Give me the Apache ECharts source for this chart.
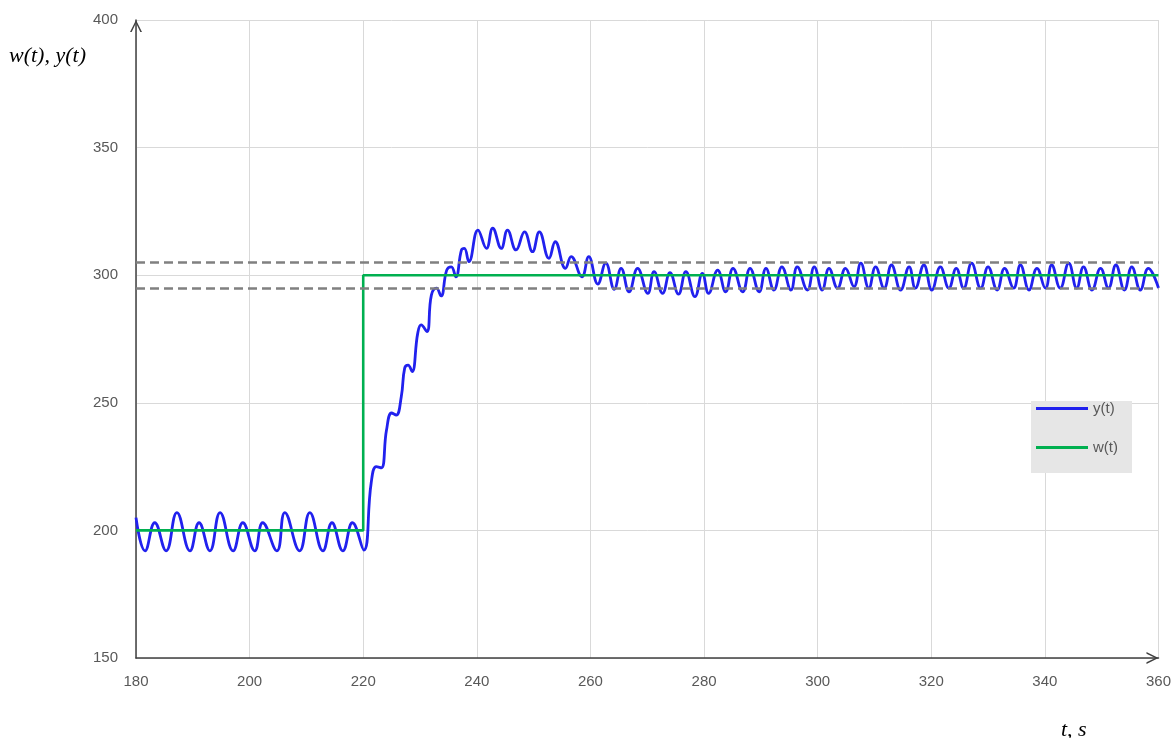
<!DOCTYPE html>
<html>
<head>
<meta charset="utf-8">
<script src="https://cdn.jsdelivr.net/npm/echarts@6/dist/echarts.min.js"></script>
<style>
html,body{margin:0;padding:0;background:#fff;overflow:hidden;}
#chart{width:1174px;height:738px;}
</style>
</head>
<body>
<div id="chart"></div>
<script>
// y(t): time stamps (s) and values
const yTime = [
  180.0, 181.6, 183.3, 185.3, 187.2, 189.5, 191.1, 193.0, 194.8, 197.1,
  198.8, 200.9, 202.3, 204.8, 206.2, 208.8, 210.6, 212.9, 214.5, 216.4,
  218.1, 220.1, 221.4, 222.3, 223.2, 224.1, 225.0, 225.8, 226.7, 227.3,
  227.9, 228.6, 229.6, 230.2, 231.2, 232.0, 232.9, 233.7, 234.7, 235.5,
  236.3, 237.3, 237.8, 238.6, 240.2, 241.7, 242.8, 244.3, 245.4, 246.9,
  248.4, 249.8, 251.0, 252.7, 253.8, 255.6, 256.6, 258.5, 259.7, 261.3,
  262.7, 264.2, 265.4, 266.8, 268.3, 270.1, 271.2, 272.7, 274.0, 275.5,
  276.8, 278.4, 279.7, 280.8, 282.4, 283.8, 285.1, 286.8, 288.1, 289.7,
  290.9, 292.3, 293.7, 295.3, 296.4, 298.2, 299.4, 300.8, 302.0, 303.5,
  304.9, 306.4, 307.6, 309.0, 310.2, 311.7, 313.0, 314.6, 316.1, 317.2,
  318.7, 320.1, 321.6, 323.1, 324.4, 325.7, 327.1, 328.7, 330.0, 331.6,
  332.9, 334.5, 335.7, 337.2, 338.6, 340.1, 341.2, 342.7, 344.2, 345.6,
  346.8, 348.3, 349.8, 351.2, 352.5, 354.0, 355.3, 356.8, 358.2, 360.0
];
const yValue = [
  205.0, 192.0, 203.0, 192.0, 207.0, 192.0, 203.0, 192.0, 207.0, 192.0,
  203.0, 192.0, 203.0, 192.0, 207.0, 192.0, 207.0, 192.0, 203.0, 192.0,
  203.0, 192.3, 218.6, 225.0, 224.5, 239.3, 246.0, 245.2, 252.4, 263.6,
  264.8, 262.2, 277.3, 280.5, 277.9, 292.2, 294.9, 291.9, 302.0, 303.3,
  299.4, 309.9, 310.5, 305.3, 317.7, 310.5, 318.4, 310.5, 317.7, 309.9,
  317.0, 309.2, 317.0, 306.6, 313.1, 302.7, 307.3, 299.4, 307.3, 296.5,
  304.7, 294.5, 302.7, 293.5, 302.7, 292.9, 301.4, 292.9, 301.0, 292.6,
  301.4, 291.6, 300.7, 292.9, 302.0, 293.5, 302.7, 293.5, 302.7, 293.5,
  302.7, 294.2, 303.3, 294.2, 303.3, 294.2, 303.3, 294.2, 302.7, 294.9,
  302.7, 295.5, 304.7, 294.9, 303.3, 294.9, 304.0, 294.2, 303.3, 294.9,
  304.0, 294.2, 303.3, 294.9, 302.7, 294.9, 304.7, 294.9, 303.3, 294.2,
  302.7, 294.9, 304.0, 294.2, 302.7, 294.9, 304.0, 294.9, 304.7, 294.9,
  303.3, 294.2, 302.7, 294.9, 304.0, 294.2, 303.3, 294.2, 302.7, 295.0
];
// w(t): setpoint step
const wTime = [180, 220, 220, 360];
const wValue = [200, 200, 300, 300];
// tolerance band
const bandValues = [305, 295];
// axis ticks
const xTicks = [180, 200, 220, 240, 260, 280, 300, 320, 340, 360];
const yTicks = [150, 200, 250, 300, 350, 400];

const yData = yTime.map((t, i) => [t, yValue[i]]);
const wData = wTime.map((t, i) => [t, wValue[i]]);

const chevron = 'path://M0,10 L5,0 L10,10 L8.6,10 L5,2.6 L1.4,10 Z';
const labelFont = { color: '#595959', fontSize: 15, fontFamily: 'Liberation Sans, Arial, sans-serif' };
const titleFont = { fontFamily: 'Liberation Serif, serif', fontStyle: 'italic', fontWeight: 'normal', fontSize: 22, color: '#000' };

const chart = echarts.init(document.getElementById('chart'), null, { renderer: 'canvas', width: 1174, height: 738 });
chart.setOption({
  animation: false,
  backgroundColor: '#ffffff',
  title: [
    { text: 'w(t), y(t)', left: 9, top: 45, padding: 0, textStyle: titleFont },
    { text: 't, s', left: 1061, top: 719, padding: 0, textStyle: titleFont }
  ],
  grid: { left: 136, right: 14, top: 20, bottom: 80, containLabel: false },
  legend: {
    orient: 'vertical',
    left: 1031, top: 401,
    padding: [0, 14, 18, 5],
    itemGap: 24,
    itemWidth: 52, itemHeight: 3,
    icon: 'rect',
    backgroundColor: '#e6e6e6',
    textStyle: labelFont,
    data: ['y(t)', 'w(t)']
  },
  xAxis: {
    type: 'value', min: xTicks[0], max: xTicks[xTicks.length - 1], interval: 20,
    axisLine: { show: true, onZero: false, lineStyle: { color: '#404040', width: 1.5 },
      symbol: ['none', chevron], symbolSize: [14, 12], symbolOffset: [0, -6] },
    axisTick: { show: false },
    axisLabel: Object.assign({ margin: 16 }, labelFont),
    splitLine: { show: true, lineStyle: { color: '#d9d9d9', width: 1 } }
  },
  yAxis: {
    type: 'value', min: yTicks[0], max: yTicks[yTicks.length - 1], interval: 50,
    axisLine: { show: true, onZero: false, lineStyle: { color: '#404040', width: 1.5 },
      symbol: ['none', chevron], symbolSize: [14, 12], symbolOffset: [0, -6] },
    axisTick: { show: false },
    axisLabel: Object.assign({ margin: 18 }, labelFont),
    splitLine: { show: true, lineStyle: { color: '#d9d9d9', width: 1 } }
  },
  series: [
    {
      name: 'band', type: 'line', data: [], silent: true,
      markLine: {
        silent: true, symbol: ['none', 'none'], label: { show: false },
        lineStyle: { color: '#808080', width: 2.5, type: [9, 5] },
        data: bandValues.map(v => ({ yAxis: v }))
      },
      z: 1
    },
    {
      name: 'y(t)', type: 'line', data: yData, smooth: 0.45,
      showSymbol: false, symbol: 'none',
      lineStyle: { color: '#2121ee', width: 2.8 }, itemStyle: { color: '#2121ee' },
      z: 2
    },
    {
      name: 'w(t)', type: 'line', data: wData,
      showSymbol: false, symbol: 'none',
      lineStyle: { color: '#00b050', width: 2.6 }, itemStyle: { color: '#00b050' },
      z: 3
    }
  ]
});
</script>
</body>
</html>
